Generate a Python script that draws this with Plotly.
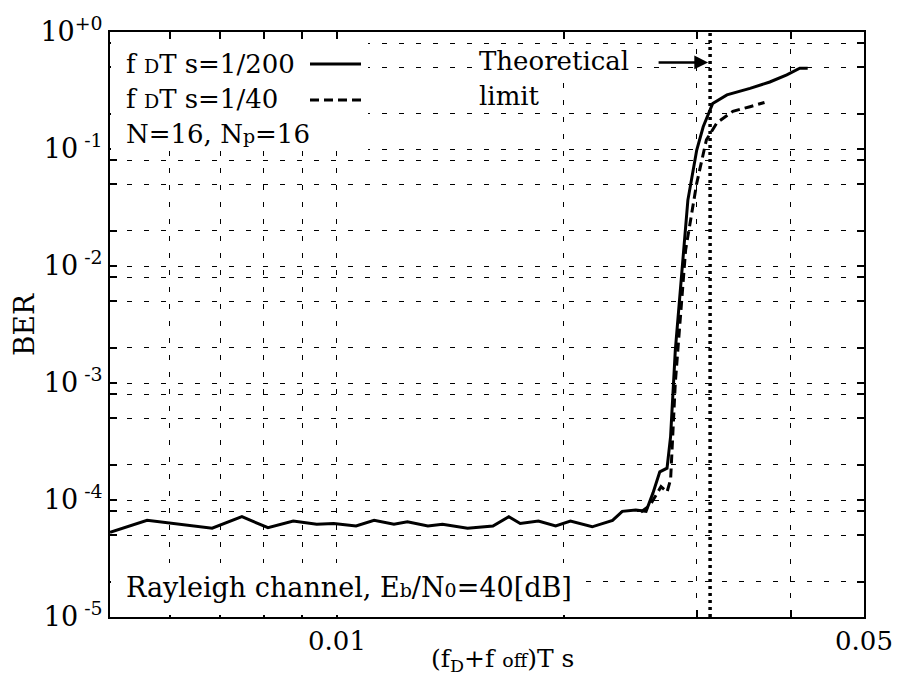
import math
import plotly.graph_objects as go

# ---- data ----
solid_x = [0.005, 0.0056, 0.00683, 0.00748, 0.0081, 0.00875, 0.0094, 0.0099, 0.0106, 0.0112,
           0.0119, 0.0124, 0.0132, 0.0138, 0.0149, 0.0161, 0.0169, 0.0175, 0.0185, 0.0195,
           0.0204, 0.0218, 0.0232, 0.0239, 0.0249, 0.0257, 0.02625, 0.0268, 0.0274, 0.0277,
           0.0281, 0.0288, 0.0292, 0.0300, 0.0306, 0.0315, 0.0329, 0.0353, 0.0375, 0.0395,
           0.0411, 0.0421]
solid_y = [5.3e-5, 6.7e-5, 5.75e-5, 7.2e-5, 5.8e-5, 6.6e-5, 6.2e-5, 6.3e-5, 6.0e-5, 6.7e-5,
           6.2e-5, 6.5e-5, 6.0e-5, 6.2e-5, 5.75e-5, 6.0e-5, 7.2e-5, 6.3e-5, 6.6e-5, 6.0e-5,
           6.6e-5, 5.9e-5, 6.7e-5, 8.0e-5, 8.2e-5, 8.0e-5, 1.15e-4, 1.74e-4, 1.87e-4, 3.5e-4,
           1.9e-3, 1.37e-2, 3.66e-2, 9.8e-2, 0.155, 0.245, 0.29, 0.33, 0.374, 0.43,
           0.49, 0.49]

dash_x = [0.0253, 0.0260, 0.0266, 0.0269, 0.0274, 0.0277, 0.0281, 0.0290, 0.0300, 0.0309,
          0.0319, 0.0335, 0.0353, 0.0369]
dash_y = [7.9e-5, 9.0e-5, 1.15e-4, 1.3e-4, 1.17e-4, 1.5e-4, 1.0e-3, 1.37e-2, 5.1e-2, 0.12,
          0.167, 0.21, 0.23, 0.25]

theoretical_limit = 1 / 32
y_limits = [1e-5, 1.0]
arrow_y = 0.55

x_tickvals = [0.006, 0.007, 0.008, 0.009, 0.01, 0.02, 0.03, 0.04, 0.05]
x_ticktext = ["", "", "", "", "0.01", "", "", "", "0.05"]

y_decades = [-5, -4, -3, -2, -1]
y_mults = [1, 2, 5, 8]
y_tickvals = []
y_ticktext = []
for k in y_decades:
    for m in y_mults:
        y_tickvals.append(m * 10 ** k)
        y_ticktext.append(f"10<sup> {k}</sup>" if m == 1 else "")
y_tickvals.append(1.0)
y_ticktext.append("10<sup>+0</sup>")

FONT = "DejaVu Serif"
SMALL = "<span style='font-size:19px'>{}</span>"

fig = go.Figure()
fig.add_trace(go.Scatter(x=solid_x, y=solid_y, mode="lines",
                         line=dict(color="black", width=3), showlegend=False))
fig.add_trace(go.Scatter(x=dash_x, y=dash_y, mode="lines",
                         line=dict(color="black", width=3, dash="9px,5px"), showlegend=False))
fig.add_trace(go.Scatter(x=[theoretical_limit, theoretical_limit], y=y_limits, mode="lines",
                         line=dict(color="black", width=3.5, dash="3px,4px"), showlegend=False))

W, H = 902, 683
OFF = 8  # page body margin offset
PL, PR, PT, PB = 110, 864, 32, 617  # plot area in screen pixels
L, T = PL - OFF, PT - OFF
R, B = W - (PR - OFF), H - (PB - OFF)
pw, ph = PR - PL, PB - PT


def px(xs):
    return (xs - PL) / pw


def py(ys):
    return (PB - ys) / ph


shapes = [
    dict(type="rect", xref="paper", yref="paper", x0=px(111), x1=px(368), y0=py(42), y1=py(150),
         fillcolor="white", line=dict(width=0), layer="above"),
    dict(type="rect", xref="paper", yref="paper", x0=px(111), x1=px(584), y0=py(563), y1=py(615),
         fillcolor="white", line=dict(width=0), layer="above"),
    dict(type="line", xref="paper", yref="paper", x0=px(310), x1=px(361), y0=py(64), y1=py(64),
         line=dict(color="black", width=3), layer="above"),
    dict(type="line", xref="paper", yref="paper", x0=px(310), x1=px(361), y0=py(100), y1=py(100),
         line=dict(color="black", width=3, dash="9px,5px"), layer="above"),
]

ann_font = dict(family=FONT, size=26, color="black")
annotations = [
    dict(xref="paper", yref="paper", x=px(124), y=py(64), xanchor="left", yanchor="middle",
         text="f " + SMALL.format("D") + "T s=1/200", showarrow=False, font=ann_font),
    dict(xref="paper", yref="paper", x=px(124), y=py(99), xanchor="left", yanchor="middle",
         text="f " + SMALL.format("D") + "T s=1/40", showarrow=False, font=ann_font),
    dict(xref="paper", yref="paper", x=px(124), y=py(134), xanchor="left", yanchor="middle",
         text="N=16, N" + SMALL.format("p") + "=16", showarrow=False, font=ann_font),
    dict(xref="paper", yref="paper", x=px(477), y=py(61), xanchor="left", yanchor="middle",
         text="Theoretical", showarrow=False, font=ann_font, bgcolor="white"),
    dict(xref="paper", yref="paper", x=px(477), y=py(96), xanchor="left", yanchor="middle",
         text="limit", showarrow=False, font=ann_font, bgcolor="white"),
    dict(xref="paper", yref="paper", x=px(124), y=py(587), xanchor="left", yanchor="middle",
         text="Rayleigh channel, E" + SMALL.format("b") + "/N" + SMALL.format("0") + "=40[dB]",
         showarrow=False, font=dict(family=FONT, size=27, color="black")),
    dict(xref="paper", yref="paper", x=px(502), y=py(660), xanchor="center", yanchor="middle",
         text="(f<sub>D</sub>+f " + SMALL.format("off") + ")T s", showarrow=False,
         font=dict(family=FONT, size=25, color="black")),
    dict(xref="paper", yref="paper", x=px(24), y=py(325), xanchor="center", yanchor="middle",
         text="BER", textangle=-90, showarrow=False,
         font=dict(family=FONT, size=28, color="black")),
    dict(xref="x", yref="y", x=math.log10(theoretical_limit), y=math.log10(arrow_y),
         ax=-53, ay=0, text="", showarrow=True, arrowhead=2, arrowsize=1.1, arrowwidth=2.5,
         arrowcolor="black", standoff=2),
]

fig.update_layout(
    width=W, height=H,
    margin=dict(l=L, r=R, t=T, b=B, autoexpand=False),
    paper_bgcolor="white", plot_bgcolor="white",
    font=dict(family=FONT, size=26, color="black"),
    shapes=shapes, annotations=annotations,
    xaxis=dict(type="log", range=[math.log10(0.005), math.log10(0.05)], automargin=False,
               tickvals=x_tickvals, ticktext=x_ticktext,
               ticks="inside", ticklen=7, tickwidth=1.5, tickcolor="black",
               showline=True, linecolor="black", linewidth=2, mirror="ticks",
               showgrid=True, gridcolor="black", gridwidth=1, griddash="5px,12px",
               zeroline=False, tickfont=dict(family=FONT, size=26)),
    yaxis=dict(type="log", range=[-5, 0], automargin=False,
               tickvals=y_tickvals, ticktext=y_ticktext,
               ticks="inside", ticklen=7, tickwidth=1.5, tickcolor="black",
               showline=True, linecolor="black", linewidth=2, mirror="ticks",
               showgrid=True, gridcolor="black", gridwidth=1, griddash="5px,12px",
               zeroline=False, tickfont=dict(family=FONT, size=27)),
)

fig.write_html("out.html")
